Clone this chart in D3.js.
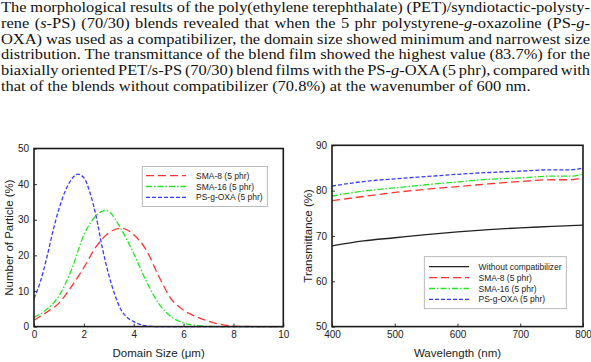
<!DOCTYPE html>
<html>
<head>
<meta charset="utf-8">
<script src="https://cdn.jsdelivr.net/npm/d3@7/dist/d3.min.js"></script>
<style>
  html, body { margin: 0; padding: 0; background: #fff; }
  svg { display: block; }
</style>
</head>
<body>
<div id="page"></div>
<script>
// paragraph lines; a part with a second item set is italic
const paragraph = [
  [["The morphological results of the poly(ethylene terephthalate) (PET)/syndiotactic-polysty-"]],
  [["rene ("], ["s", 1], ["-PS) (70/30) blends revealed that when the 5 phr polystyrene-"], ["g", 1], ["-oxazoline (PS-"], ["g", 1], ["-"]],
  [["OXA) was used as a compatibilizer, the domain size showed minimum and narrowest size"]],
  [["distribution. The transmittance of the blend film showed the highest value (83.7%) for the"]],
  [["biaxially oriented PET/s-PS (70/30) blend films with the PS-"], ["g", 1], ["-OXA (5 phr), compared with"]],
  [["that of the blends without compatibilizer (70.8%) at the wavenumber of 600 nm."]],
];
const justified = [true, true, true, true, true, false];

// left chart: particle size distribution
const sizeX = {
  sma8: [0, 0.5, 1, 1.5, 2, 2.5, 3, 3.5, 4, 4.5, 5, 5.5, 6, 6.5, 7, 7.5, 8, 8.5, 9, 9.5, 10],
  sma16: [0, 0.5, 1, 1.5, 2, 2.5, 2.85, 3, 3.5, 4, 4.5, 5, 5.5, 6, 6.5, 7, 7.5, 8, 9, 10],
  psgoxa: [0, 0.25, 0.5, 0.75, 1, 1.25, 1.5, 1.75, 2, 2.25, 2.5, 2.75, 3, 3.25, 3.5, 3.75, 4, 4.25, 4.5, 5, 6, 7, 8, 9, 10],
};
const sizeSMA8 = [1.8, 4, 6.6, 11.2, 16.6, 22.5, 26.3, 27.6, 25.8, 21.5, 14.2, 7.8, 4.6, 2.8, 1.5, 0.6, 0.15, 0.05, 0, 0, 0];
const sizeSMA16 = [2.6, 4.8, 8.6, 15.9, 25.7, 31.2, 32.6, 32.3, 27.3, 20.5, 12.8, 6.5, 2.8, 1, 0.3, 0.05, 0, 0, 0, 0];
const sizePSgOXA = [7.9, 12.5, 19, 26.5, 33, 38, 41.3, 42.8, 41.8, 37.5, 30.7, 21.8, 14.5, 8.8, 4.6, 2.5, 1.4, 0.6, 0.2, 0, 0, 0, 0, 0, 0];
const sizeTicksX = [0, 2, 4, 6, 8, 10];
const sizeTicksY = [0, 10, 20, 30, 40, 50];

// right chart: transmittance
const wavelength = [400, 450, 500, 550, 600, 650, 700, 750, 780, 800];
const transNone = [67.8, 68.9, 69.6, 70.3, 70.9, 71.4, 71.8, 72.1, 72.3, 72.4];
const transSMA8 = [77.8, 78.7, 79.6, 80.3, 80.9, 81.5, 82.0, 82.4, 82.4, 82.9];
const transSMA16 = [78.8, 79.9, 80.6, 81.3, 81.9, 82.5, 82.8, 83.2, 83.2, 83.7];
const transPSgOXA = [81.0, 82.0, 82.6, 83.1, 83.6, 84.0, 84.3, 84.6, 84.6, 85.0];
const transTicksX = [400, 500, 600, 700, 800];
const transTicksY = [50, 60, 70, 80, 90];

const styles = {
  none: { color: "#222", dash: null },
  sma8: { color: "#ff3333", dash: "8,4" },
  sma16: { color: "#22e622", dash: "6,2,1.5,2" },
  psgoxa: { color: "#3a3aff", dash: "4,2" },
};

const W = 591, H = 362;
const svg = d3.select("#page").append("svg").attr("width", W).attr("height", H)
  .attr("font-family", "'Liberation Sans', Arial, sans-serif");

// paragraph: widened serif, justified by widening the spaces between words
const stretch = 1.21;
const para = svg.append("g").attr("transform", `translate(1,0) scale(${stretch},1)`)
  .attr("font-family", "'Liberation Serif', 'Times New Roman', serif")
  .attr("font-size", 13.6).attr("fill", "#111");
paragraph.forEach((parts, i) => {
  const t = para.append("text").attr("x", 0).attr("y", 12 + i * 15.8);
  parts.forEach(([s, it]) => t.append("tspan").attr("font-style", it ? "italic" : null).text(s));
  if (justified[i]) {
    const spaces = parts.map((p) => p[0]).join("").split(" ").length - 1;
    const natural = t.node().getComputedTextLength();
    t.attr("word-spacing", (589 / stretch - natural) / spaces);
  }
});

function panel(opt) {
  const g = svg.append("g");
  const x = d3.scaleLinear().domain(opt.xDomain).range([opt.left, opt.right]);
  const y = d3.scaleLinear().domain(opt.yDomain).range([opt.bottom, opt.top]);

  g.append("g").attr("transform", `translate(0,${opt.bottom})`)
    .call(d3.axisBottom(x).tickValues(opt.xTicks).tickSize(-3).tickPadding(4.5))
    .call((a) => a.select(".domain").remove());
  g.append("g").attr("transform", `translate(${opt.left},0)`)
    .call(d3.axisLeft(y).tickValues(opt.yTicks).tickSize(-3).tickPadding(5))
    .call((a) => a.select(".domain").remove());
  g.selectAll(".tick text").attr("font-size", 10).attr("fill", "#222")
    .attr("font-family", "'Liberation Sans', Arial, sans-serif");
  g.selectAll(".tick line").attr("stroke", "#333");

  const line = d3.line().x((d) => x(d[0])).y((d) => y(d[1])).curve(d3.curveMonotoneX);
  opt.series.forEach((s) => {
    const st = styles[s.key];
    g.append("path").datum(d3.zip(s.x, s.y)).attr("fill", "none")
      .attr("stroke", st.color).attr("stroke-width", 1.3)
      .attr("stroke-dasharray", st.dash).attr("d", line);
  });

  g.append("rect").attr("x", opt.left).attr("y", opt.top)
    .attr("width", opt.right - opt.left).attr("height", opt.bottom - opt.top)
    .attr("fill", "none").attr("stroke", "#1a1a1a").attr("stroke-width", 1.6);

  g.append("text").attr("x", (opt.left + opt.right) / 2).attr("y", 357)
    .attr("text-anchor", "middle").attr("font-size", 11.5).attr("fill", "#222").text(opt.xTitle);
  g.append("text").attr("transform", `translate(${opt.yTitleX},${(opt.top + opt.bottom) / 2}) rotate(-90)`)
    .attr("text-anchor", "middle").attr("font-size", 11.5).attr("fill", "#222").text(opt.yTitle);

  const L = opt.legend;
  const lg = g.append("g");
  lg.append("rect").attr("x", L.x).attr("y", L.y).attr("width", L.w).attr("height", L.h)
    .attr("fill", "#fff").attr("stroke", "#aaa").attr("stroke-width", 0.8);
  opt.series.forEach((s, i) => {
    const st = styles[s.key];
    const yy = L.y0 + i * L.step;
    lg.append("line").attr("x1", L.lx1).attr("x2", L.lx2).attr("y1", yy).attr("y2", yy)
      .attr("stroke", st.color).attr("stroke-width", 1.3).attr("stroke-dasharray", st.dash);
    lg.append("text").attr("x", L.tx).attr("y", yy + 3).attr("font-size", 8.5).attr("fill", "#222").text(s.label);
  });
}

panel({
  left: 34, right: 283.3, top: 148.5, bottom: 326.6,
  xDomain: [0, 10], yDomain: [0, 50], xTicks: sizeTicksX, yTicks: sizeTicksY,
  xTitle: "Domain Size (\u03bcm)", yTitle: "Number of Particle (%)", yTitleX: 13,
  series: [
    { key: "sma8", label: "SMA-8 (5 phr)", x: sizeX.sma8, y: sizeSMA8 },
    { key: "sma16", label: "SMA-16 (5 phr)", x: sizeX.sma16, y: sizeSMA16 },
    { key: "psgoxa", label: "PS-g-OXA (5 phr)", x: sizeX.psgoxa, y: sizePSgOXA },
  ],
  legend: { x: 142.3, y: 166.5, w: 125, h: 40, y0: 175.7, step: 10.8, lx1: 146, lx2: 186, tx: 196 },
});

panel({
  left: 332, right: 583, top: 145.3, bottom: 326.6,
  xDomain: [400, 800], yDomain: [50, 90], xTicks: transTicksX, yTicks: transTicksY,
  xTitle: "Wavelength (nm)", yTitle: "Transmittance (%)", yTitleX: 311.5,
  series: [
    { key: "none", label: "Without compatibilizer", x: wavelength, y: transNone },
    { key: "sma8", label: "SMA-8 (5 phr)", x: wavelength, y: transSMA8 },
    { key: "sma16", label: "SMA-16 (5 phr)", x: wavelength, y: transSMA16 },
    { key: "psgoxa", label: "PS-g-OXA (5 phr)", x: wavelength, y: transPSgOXA },
  ],
  legend: { x: 424.3, y: 256.7, w: 142, h: 52, y0: 266.7, step: 10.9, lx1: 429, lx2: 469, tx: 478.5 },
});
</script>
</body>
</html>
